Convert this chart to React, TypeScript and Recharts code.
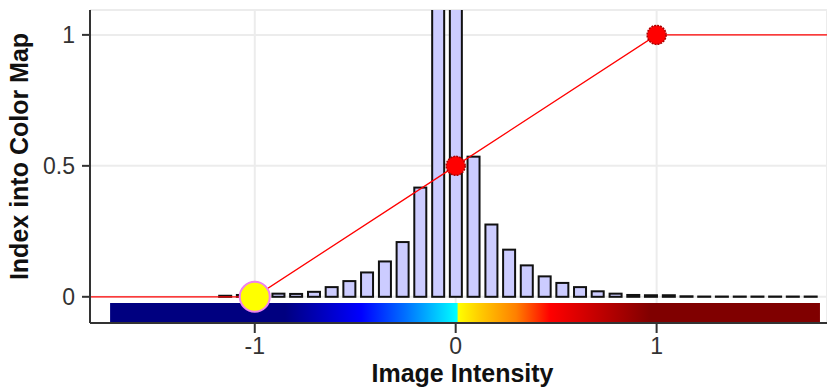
import { ComposedChart, Bar, Line, XAxis, YAxis, CartesianGrid, ReferenceArea } from 'recharts';

// histogram of image intensities (bin centers and bar heights in color-map index units)
const binCenters = [
  -1.148, -1.06, -0.971, -0.883, -0.795, -0.706, -0.618, -0.53, -0.442, -0.353, -0.265, -0.177,
  -0.088, 0, 0.088, 0.177, 0.265, 0.353, 0.442, 0.53, 0.618, 0.706, 0.795, 0.883, 0.971, 1.06,
  1.148, 1.236, 1.324, 1.413, 1.501, 1.589, 1.677, 1.766,
];
const binHeights = [
  0.004, 0.007, 0.01, 0.012, 0.011, 0.019, 0.037, 0.06, 0.093, 0.135, 0.209, 0.417,
  1.8, 2.4, 0.535, 0.276, 0.18, 0.12, 0.078, 0.053, 0.037, 0.021, 0.012, 0.007, 0.006, 0.006,
  0.002, 0.001, 0.001, 0.001, 0.001, 0.001, 0.001, 0.001,
];

// transfer function (intensity -> index into color map)
const tfX = [-1.82, -1, 0, 1, 1.848];
const tfY = [0, 0, 0.5, 1, 1];
const controlPoints = [1, 2, 3];
const selectedPoint = 1;

// color bar
const cbarX = [-1.72, 1.813];
const cbarY = [-0.1, -0.024];
const cmapValues = [-1.72, -0.85, -0.47, -0.25, 0.007, 0.012, 0.12, 0.3, 0.47, 0.67, 0.97, 1.813];
const cmapColors = [
  '#000080', '#000080', '#0000ff', '#0070ff', '#00ffff', '#ffff00',
  '#ffcc00', '#ff8000', '#ff0000', '#cc0000', '#800000', '#800000',
];

const xTicks = [-1, 0, 1];
const yTicks = [0, 0.5, 1];

const histData = binCenters.map((x, i) => ({ x, count: binHeights[i] }));
const tfData = tfX.map((x, i) => ({ x, y: tfY[i], idx: i }));

const tickFont = { fontFamily: 'Liberation Sans, Arial, sans-serif', fontSize: 23, fill: '#333' };
const titleFont = { fontFamily: 'Liberation Sans, Arial, sans-serif', fontSize: 25, fontWeight: 'bold', fill: '#111' };

const BAR_W = 12;

const HistBar = (props: any) => {
  const { x, y, width, height } = props;
  if (height == null || isNaN(height)) return <g />;
  const cx = x + width / 2;
  const top = height < 0 ? y + height : y;
  return (
    <rect
      x={cx - BAR_W / 2}
      y={top}
      width={BAR_W}
      height={Math.abs(height)}
      fill="#ccccff"
      stroke="#111"
      strokeWidth={2}
    />
  );
};

const renderDot = (props: any) => {
  const { cx, cy, payload, index } = props;
  if (!controlPoints.includes(payload.idx)) return <g key={index} />;
  if (payload.idx === selectedPoint) {
    return <circle key={index} cx={cx} cy={cy} r={15} fill="#ffff00" stroke="#ee82ee" strokeWidth={2} />;
  }
  return <circle key={index} cx={cx} cy={cy} r={9.5} fill="#ff0000" stroke="#aa0000" strokeWidth={1.5} strokeDasharray="2 1" />;
};

const YTitle = (props: any) => {
  const { viewBox, value } = props;
  const cx = viewBox.x + 28;
  const cy = viewBox.y + viewBox.height / 2 - 10;
  return (
    <text x={cx} y={cy} transform={`rotate(-90, ${cx}, ${cy})`} textAnchor="middle" style={titleFont}>
      {value}
    </text>
  );
};

const XTitle = (props: any) => {
  const { viewBox, value } = props;
  return (
    <text x={viewBox.x + viewBox.width / 2 + 4} y={viewBox.y + 59} textAnchor="middle" style={titleFont}>
      {value}
    </text>
  );
};

export default function App() {
  const span = cbarX[1] - cbarX[0];
  return (
    <div style={{ position: 'absolute', left: 0, top: 0 }}>
      <ComposedChart width={827} height={390} data={histData} margin={{ top: 10, right: 0, bottom: 0, left: 0 }}>
        <defs>
          <linearGradient id="cmap" x1="0" y1="0" x2="1" y2="0">
            {cmapValues.map((v, i) => (
              <stop key={i} offset={(v - cbarX[0]) / span} stopColor={cmapColors[i]} />
            ))}
          </linearGradient>
        </defs>
        <CartesianGrid stroke="#ececec" strokeWidth={2} />
        <XAxis
          type="number"
          dataKey="x"
          domain={[-1.82, 1.848]}
          allowDataOverflow
          ticks={xTicks}
          height={67}
          tickSize={10}
          tickMargin={5}
          tick={tickFont}
          axisLine={{ stroke: '#333', strokeWidth: 2 }}
          tickLine={{ stroke: '#333', strokeWidth: 2 }}
          label={{ value: 'Image Intensity', content: XTitle }}
        />
        <YAxis
          type="number"
          domain={[-0.1, 1.095]}
          allowDataOverflow
          ticks={yTicks}
          width={90}
          tickSize={8}
          tickMargin={7}
          tick={tickFont}
          axisLine={{ stroke: '#333', strokeWidth: 2 }}
          tickLine={{ stroke: '#333', strokeWidth: 2 }}
          label={{ value: 'Index into Color Map', content: YTitle }}
        />
        <ReferenceArea
          x1={cbarX[0]}
          x2={cbarX[1]}
          y1={cbarY[0]}
          y2={cbarY[1]}
          fill="url(#cmap)"
          fillOpacity={1}
          stroke="none"
        />
        <Bar dataKey="count" shape={HistBar} isAnimationActive={false} />
        <Line
          data={tfData}
          dataKey="y"
          type="linear"
          stroke="#ff0000"
          strokeWidth={1.3}
          dot={renderDot}
          activeDot={false}
          isAnimationActive={false}
        />
      </ComposedChart>
    </div>
  );
}
